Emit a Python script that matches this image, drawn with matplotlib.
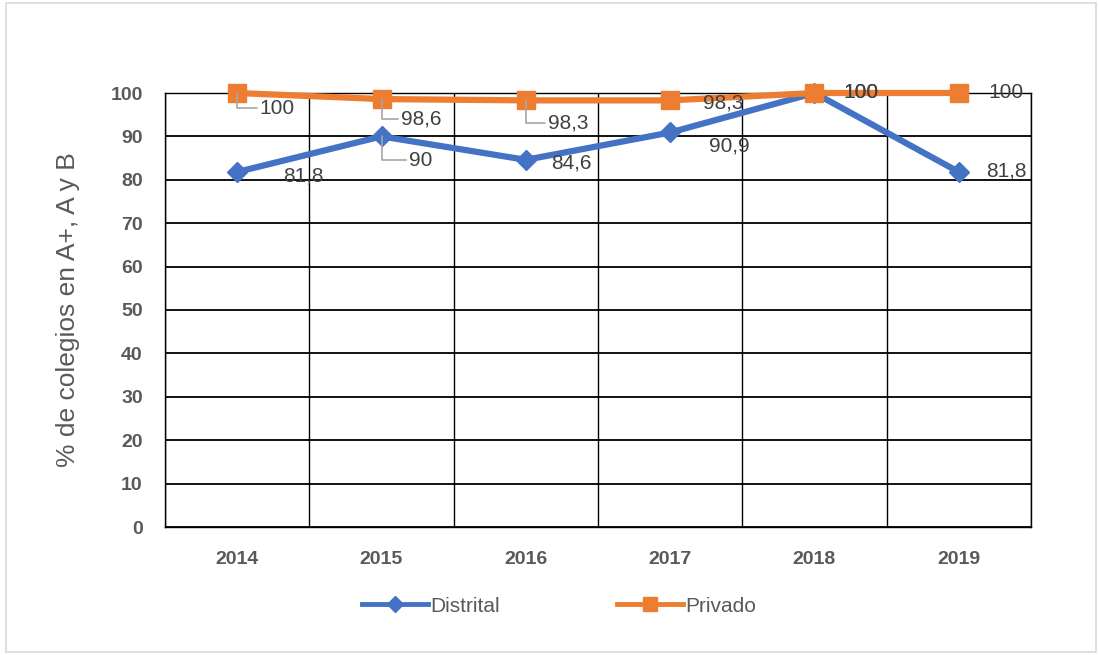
import matplotlib
matplotlib.use('Agg')
import numpy as np
from matplotlib import pyplot as plt
from matplotlib.patches import Rectangle

years = ['2014', '2015', '2016', '2017', '2018', '2019']
distrital = [81.8, 90, 84.6, 90.9, 100, 81.8]
privado = [100, 98.6, 98.3, 98.3, 100, 100]
lbl_d = ['81,8', '90', '84,6', '90,9', '100', '81,8']
lbl_p = ['100', '98,6', '98,3', '98,3', '100', '100']

plt.rcParams['font.family'] = ['Liberation Sans', 'DejaVu Sans']

fig = plt.figure(figsize=(10.99, 6.55), dpi=100)
fig.patches.append(Rectangle((6/1099, 1 - 652/655), 1090/1099, 649/655,
                             transform=fig.transFigure, fill=False,
                             edgecolor='#d9d9d9', linewidth=1.2))
ax = fig.add_axes([165/1099, 1 - 527/655, 866/1099, 434/655])

x = np.arange(len(years))
blue = '#4472c4'
orange = '#ed7d31'
ax.plot(x, distrital, color=blue, linewidth=4.5, marker='D', markersize=10,
        label='Distrital', zorder=3, clip_on=False)
ax.plot(x, privado, color=orange, linewidth=4.5, marker='s', markersize=13,
        label='Privado', zorder=4, clip_on=False)

ax.set_xlim(-0.5, len(years) - 0.5)
ax.set_ylim(0, 100)
ax.set_yticks(np.arange(0, 101, 10))
ax.set_xticks(x)
ax.set_xticklabels(years)
ax.set_xticks(np.arange(-0.5, len(years), 1), minor=True)
ax.grid(axis='y', which='major', color='black', linewidth=1.3)
ax.grid(axis='x', which='minor', color='black', linewidth=1.0)
ax.set_axisbelow(True)
for s in ax.spines.values():
    s.set_color('black')
    s.set_linewidth(1.0)
ax.tick_params(which='both', length=0)
ax.tick_params(axis='x', pad=17)
ax.tick_params(axis='y', pad=16)
for t in ax.get_xticklabels() + ax.get_yticklabels():
    t.set_fontsize(14)
    t.set_fontweight('bold')
    t.set_color('#595959')
ax.set_ylabel('% de colegios en A+, A y B', fontsize=19, color='#595959',
              labelpad=22)

txt = dict(fontsize=15, color='#404040', va='center', ha='left')
lead = dict(arrowstyle='-', color='#a6a6a6', lw=1.2,
            connectionstyle='angle,angleA=0,angleB=90,rad=0',
            shrinkA=0, shrinkB=0)

# Privado labels (offset in points)
p_off = [(16, -11), (14, -14), (16, -16), (24, -2), (21, 0), (21, 0)]
p_lead = [True, True, True, False, False, False]
for i in range(len(years)):
    ax.annotate(lbl_p[i], (x[i], privado[i]), xytext=p_off[i],
                textcoords='offset points', zorder=5,
                arrowprops=lead if p_lead[i] else None, **txt)

d_off = [(33, -3), (20, -17), (18, -2), (28, -10), (21, 0), (20, 1)]
d_lead = [False, True, False, False, False, False]
for i in range(len(years)):
    ax.annotate(lbl_d[i], (x[i], distrital[i]), xytext=d_off[i],
                textcoords='offset points', zorder=5,
                arrowprops=lead if d_lead[i] else None, **txt)

leg = fig.legend(loc='center', bbox_to_anchor=(559/1099, 1 - 606/655),
                 ncol=2, frameon=False, fontsize=15, columnspacing=5.6,
                 handlelength=3.2, handletextpad=0.1, markerscale=0.8)
for h in leg.legend_handles:
    h.set_linewidth(3.5)
for t in leg.get_texts():
    t.set_color('#595959')

plt.savefig('out.png', dpi=100)
